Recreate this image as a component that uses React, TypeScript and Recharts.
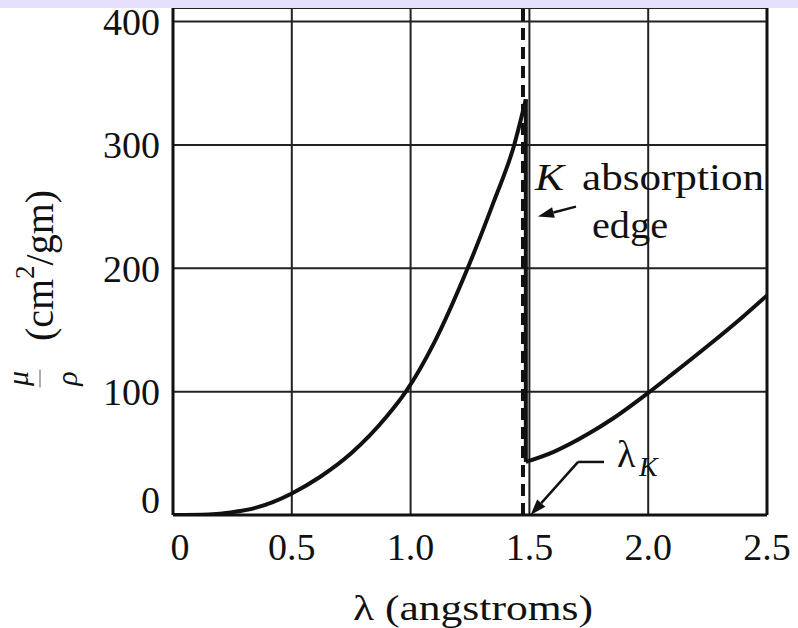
import React from 'react';
import {
  LineChart,
  Line,
  XAxis,
  YAxis,
  CartesianGrid,
  ReferenceLine,
  Label,
  Customized,
} from 'recharts';

// ---- data ----
const xTicks = [0, 0.5, 1.0, 1.5, 2.0, 2.5];
const xTickLabels = ['0', '0.5', '1.0', '1.5', '2.0', '2.5'];
const yTicks = [0, 100, 200, 300, 400];

const lambdaK = 1.485; // K absorption edge (angstroms)
const kMarkerX = 1.473; // dashed λK marker

// mass absorption coefficient below the edge wavelength
const shortSide = [
  { x: 0, y: 0 },
  { x: 0.15, y: 0.5 },
  { x: 0.25, y: 2.3 },
  { x: 0.35, y: 6 },
  { x: 0.42, y: 10.5 },
  { x: 0.5, y: 17.5 },
  { x: 0.62, y: 31 },
  { x: 0.75, y: 50 },
  { x: 0.9, y: 80 },
  { x: 0.98, y: 100 },
  { x: 1.1, y: 140 },
  { x: 1.24, y: 200 },
  { x: 1.35, y: 254 },
  { x: 1.436, y: 300 },
  { x: lambdaK, y: 337 },
];

// the jump at the edge
const edgeJump = [
  { x: lambdaK, y: 337 },
  { x: lambdaK, y: 43 },
];

// above the edge wavelength
const longSide = [
  { x: lambdaK, y: 43 },
  { x: 1.6, y: 51 },
  { x: 1.75, y: 66 },
  { x: 1.85, y: 78 },
  { x: 2.0, y: 99 },
  { x: 2.1, y: 114 },
  { x: 2.25, y: 137 },
  { x: 2.4, y: 161 },
  { x: 2.5, y: 178 },
];

// annotation anchor points (data coordinates)
const edgeArrow = [
  { x: 1.696, y: 250 },
  { x: 1.536, y: 242 },
];
const kLeaderFlat = [
  { x: 1.814, y: 43 },
  { x: 1.705, y: 43 },
];
const kLeaderArrow = [
  { x: 1.705, y: 43 },
  { x: 1.505, y: 0 },
];

const FONT = '"Liberation Serif", "Times New Roman", serif';
const INK = '#111';

const YTick = (props: any) => {
  const { x, y, payload } = props;
  const raise = payload.value === 0 ? -15 : 0;
  return (
    <text
      x={x}
      y={y + raise}
      dy="0.35em"
      textAnchor="end"
      fontSize={38}
      fontFamily={FONT}
      fill={INK}
    >
      {payload.value}
    </text>
  );
};

const XTick = (props: any) => {
  const { x, y, payload, index } = props;
  const shift = payload.value === 0 ? 7 : 0;
  return (
    <text
      x={x + shift}
      y={y}
      dy="0.71em"
      textAnchor="middle"
      fontSize={38}
      fontFamily={FONT}
      fill={INK}
    >
      {xTickLabels[index] ?? String(payload.value)}
    </text>
  );
};

const Arrow = (props: any) => {
  const { x1, y1, x2, y2 } = props;
  if ([x1, y1, x2, y2].some((v) => typeof v !== 'number')) return null;
  const ang = Math.atan2(y2 - y1, x2 - x1);
  const L = 16;
  const W = 5.5;
  const bx = x2 - L * Math.cos(ang);
  const by = y2 - L * Math.sin(ang);
  const px = -Math.sin(ang) * W;
  const py = Math.cos(ang) * W;
  return (
    <g>
      <line x1={x1} y1={y1} x2={bx} y2={by} stroke={INK} strokeWidth={2.5} />
      <polygon
        points={`${x2},${y2} ${bx + px},${by + py} ${bx - px},${by - py}`}
        fill={INK}
      />
    </g>
  );
};

const XTitle = (props: any) => {
  const vb = props.viewBox || { x: 173, y: 515, width: 594, height: 113 };
  return (
    <text
      x={vb.x + vb.width / 2 + 3}
      y={vb.y + 105}
      textAnchor="middle"
      fontSize={36}
      fontFamily={FONT}
      fill={INK}
      textLength={240}
      lengthAdjust="spacingAndGlyphs"
    >
      λ (angstroms)
    </text>
  );
};

const YTitle = (props: any) => {
  const vb = props.viewBox || { x: 0, y: 8, width: 173, height: 507 };
  const cy = vb.y + vb.height / 2 + 4;
  return (
    <g transform={`translate(53, ${cy}) rotate(-90)`} fontFamily={FONT} fill={INK}>
      <text x={0} y={0} textAnchor="middle" fontSize={40}>
        (cm
        <tspan dy={-19} fontSize={27}>2</tspan>
        <tspan dy={19}>/gm)</tspan>
      </text>
      <text x={-113} y={-25} textAnchor="middle" fontSize={30} fontStyle="italic">
        μ
      </text>
      <line x1={-122} y1={-13} x2={-104} y2={-13} stroke="#777" strokeWidth={1.2} />
      <text x={-113} y={24} textAnchor="middle" fontSize={30} fontStyle="italic">
        ρ
      </text>
    </g>
  );
};

const Annotations = () => (
  <g fontFamily={FONT} fill={INK}>
    <text x={535} y={190} fontSize={38} fontStyle="italic" textLength={29} lengthAdjust="spacingAndGlyphs">
      K
    </text>
    <text x={582} y={190} fontSize={38} textLength={182} lengthAdjust="spacingAndGlyphs">
      absorption
    </text>
    <text x={592} y={238} fontSize={38} textLength={76} lengthAdjust="spacingAndGlyphs">
      edge
    </text>
    <text x={617} y={467} fontSize={38}>
      λ
    </text>
    <text x={639} y={476} fontSize={28} fontStyle="italic">
      K
    </text>
  </g>
);

export default function App() {
  return (
    <div
      style={{
        position: 'absolute',
        left: 0,
        top: 0,
        width: 798,
        height: 628,
        background: '#ffffff',
        overflow: 'hidden',
      }}
    >
      <LineChart
        width={798}
        height={628}
        margin={{ top: 8, right: 31, left: 0, bottom: 0 }}
      >
        <CartesianGrid stroke="#222" strokeWidth={2} />
        <XAxis
          type="number"
          dataKey="x"
          domain={[0, 2.5]}
          ticks={xTicks}
          height={113}
          tickSize={0}
          tickMargin={18}
          tickLine={false}
          axisLine={{ stroke: INK, strokeWidth: 3 }}
          tick={<XTick />}
          allowDataOverflow
        >
          <Label content={<XTitle />} />
        </XAxis>
        <YAxis
          type="number"
          dataKey="y"
          domain={[0, 411]}
          ticks={yTicks}
          width={173}
          tickSize={0}
          tickMargin={13}
          tickLine={false}
          axisLine={{ stroke: INK, strokeWidth: 3 }}
          tick={<YTick />}
          allowDataOverflow
        >
          <Label content={<YTitle />} />
        </YAxis>
        <ReferenceLine x={2.5} stroke={INK} strokeWidth={3} />
        <ReferenceLine
          x={kMarkerX}
          stroke={INK}
          strokeWidth={4}
          strokeDasharray="12 7"
        />
        <Line
          data={shortSide}
          dataKey="y"
          type="monotone"
          stroke={INK}
          strokeWidth={4}
          dot={false}
          isAnimationActive={false}
        />
        <Line
          data={edgeJump}
          dataKey="y"
          type="linear"
          stroke={INK}
          strokeWidth={4}
          dot={false}
          isAnimationActive={false}
        />
        <Line
          data={longSide}
          dataKey="y"
          type="monotone"
          stroke={INK}
          strokeWidth={4}
          dot={false}
          isAnimationActive={false}
        />
        <ReferenceLine segment={edgeArrow} shape={<Arrow />} />
        <ReferenceLine segment={kLeaderFlat} stroke={INK} strokeWidth={2.5} />
        <ReferenceLine segment={kLeaderArrow} shape={<Arrow />} />
        <Customized component={<Annotations />} />
      </LineChart>
      <div
        style={{
          position: 'absolute',
          left: 0,
          top: 0,
          width: 798,
          height: 8,
          background: '#e7e0fc',
        }}
      />
    </div>
  );
}
